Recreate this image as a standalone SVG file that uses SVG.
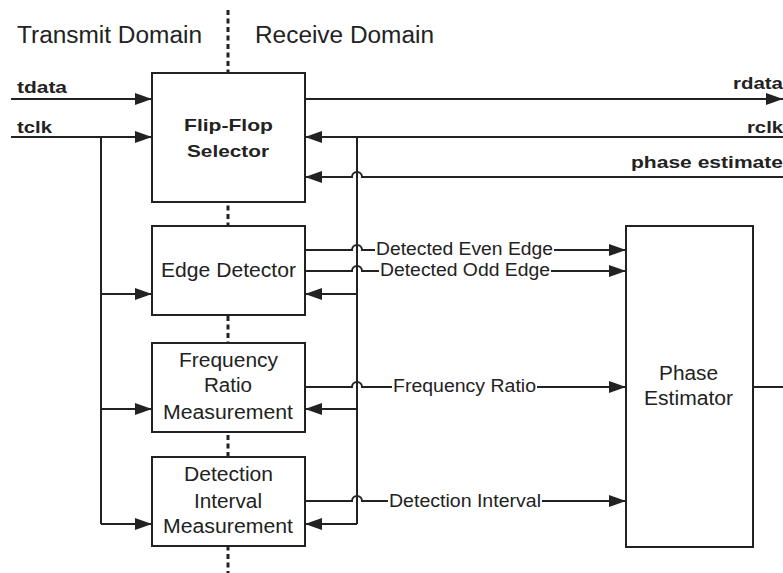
<svg xmlns="http://www.w3.org/2000/svg" width="783" height="573" viewBox="0 0 783 573">
<style>
text{font-family:"Liberation Sans",Arial,sans-serif;fill:#222}
.dom{font-size:23px}
.b{font-size:17px;font-weight:bold}
.n{font-size:19.5px}
.c{font-size:17.5px}
.box{fill:#fff;stroke:#222;stroke-width:2}
.ln{fill:none;stroke:#222;stroke-width:2}
.dot{fill:none;stroke:#222;stroke-width:3;stroke-dasharray:5 3.5}
</style>
<defs>
<marker id="ah" markerUnits="userSpaceOnUse" markerWidth="17" markerHeight="12" refX="17" refY="6" orient="auto">
<path d="M0,0 L17,6 L0,12 z" fill="#222"/>
</marker>
</defs>
<rect width="783" height="573" fill="#fff"/>
<line class="dot" x1="228" y1="10" x2="228" y2="573"/>
<text class="dom" x="17" y="43" textLength="185" lengthAdjust="spacingAndGlyphs">Transmit Domain</text>
<text class="dom" x="255" y="43" textLength="179" lengthAdjust="spacingAndGlyphs">Receive Domain</text>
<g id="connectors">
<path class="ln" marker-end="url(#ah)" d="M11,99 L152,99"/>
<path class="ln" marker-end="url(#ah)" d="M11,137 L152,137"/>
<path class="ln" marker-end="url(#ah)" d="M305,99 L783,99"/>
<path class="ln" marker-end="url(#ah)" d="M783,137 L305,137"/>
<path class="ln" marker-end="url(#ah)" d="M783,177 L362,177 A5,5 0 0 0 352,177 L305,177"/>
<path class="ln" d="M101,137 L101,524"/>
<path class="ln" marker-end="url(#ah)" d="M101,294 L152,294"/>
<path class="ln" marker-end="url(#ah)" d="M101,409 L152,409"/>
<path class="ln" marker-end="url(#ah)" d="M101,524 L152,524"/>
<path class="ln" d="M357,137 L357,524"/>
<path class="ln" marker-end="url(#ah)" d="M357,294 L305,294"/>
<path class="ln" marker-end="url(#ah)" d="M357,409 L305,409"/>
<path class="ln" marker-end="url(#ah)" d="M357,524 L305,524"/>
<path class="ln" d="M305,250 L352,250 A5,5 0 0 1 362,250 L375,250"/>
<path class="ln" marker-end="url(#ah)" d="M554,250 L626,250"/>
<path class="ln" d="M305,271 L352,271 A5,5 0 0 1 362,271 L379,271"/>
<path class="ln" marker-end="url(#ah)" d="M551,271 L626,271"/>
<path class="ln" d="M305,387 L352,387 A5,5 0 0 1 362,387 L392,387"/>
<path class="ln" marker-end="url(#ah)" d="M537,387 L626,387"/>
<path class="ln" d="M305,501 L352,501 A5,5 0 0 1 362,501 L388,501"/>
<path class="ln" marker-end="url(#ah)" d="M542,501 L626,501"/>
<path class="ln" d="M753,387 L783,387"/>
<text class="c" x="376" y="255" textLength="177" lengthAdjust="spacingAndGlyphs">Detected Even Edge</text>
<text class="c" x="380" y="276" textLength="170" lengthAdjust="spacingAndGlyphs">Detected Odd Edge</text>
<text class="c" x="393" y="392" textLength="143" lengthAdjust="spacingAndGlyphs">Frequency Ratio</text>
<text class="c" x="389" y="507" textLength="152" lengthAdjust="spacingAndGlyphs">Detection Interval</text>
</g>
<text class="b" x="17" y="93" textLength="50" lengthAdjust="spacingAndGlyphs">tdata</text>
<text class="b" x="17" y="133" textLength="35" lengthAdjust="spacingAndGlyphs">tclk</text>
<text class="b" x="733" y="89" textLength="50" lengthAdjust="spacingAndGlyphs">rdata</text>
<text class="b" x="747" y="133" textLength="36" lengthAdjust="spacingAndGlyphs">rclk</text>
<text class="b" x="631" y="168" textLength="152" lengthAdjust="spacingAndGlyphs">phase estimate</text>
<g id="flipflop">
<rect class="box" x="152" y="73" width="153" height="129"/>
<text class="b" x="184" y="131" textLength="89" lengthAdjust="spacingAndGlyphs">Flip-Flop</text>
<text class="b" x="187" y="157" textLength="82" lengthAdjust="spacingAndGlyphs">Selector</text>
</g>
<g id="edge">
<rect class="box" x="152" y="226" width="153" height="89"/>
<text class="n" x="161" y="277" textLength="135" lengthAdjust="spacingAndGlyphs">Edge Detector</text>
</g>
<g id="freq">
<rect class="box" x="152" y="343" width="153" height="89"/>
<text class="n" x="179" y="367" textLength="99" lengthAdjust="spacingAndGlyphs">Frequency</text>
<text class="n" x="204" y="392" textLength="48" lengthAdjust="spacingAndGlyphs">Ratio</text>
<text class="n" x="163" y="419" textLength="130" lengthAdjust="spacingAndGlyphs">Measurement</text>
</g>
<g id="detint">
<rect class="box" x="152" y="457" width="153" height="89"/>
<text class="n" x="184" y="481" textLength="89" lengthAdjust="spacingAndGlyphs">Detection</text>
<text class="n" x="194" y="508" textLength="68" lengthAdjust="spacingAndGlyphs">Interval</text>
<text class="n" x="163" y="533" textLength="130" lengthAdjust="spacingAndGlyphs">Measurement</text>
</g>
<g id="phase">
<rect class="box" x="626" y="226" width="127" height="321"/>
<text class="n" x="659" y="380" textLength="59" lengthAdjust="spacingAndGlyphs">Phase</text>
<text class="n" x="644" y="405" textLength="89" lengthAdjust="spacingAndGlyphs">Estimator</text>
</g>
</svg>
